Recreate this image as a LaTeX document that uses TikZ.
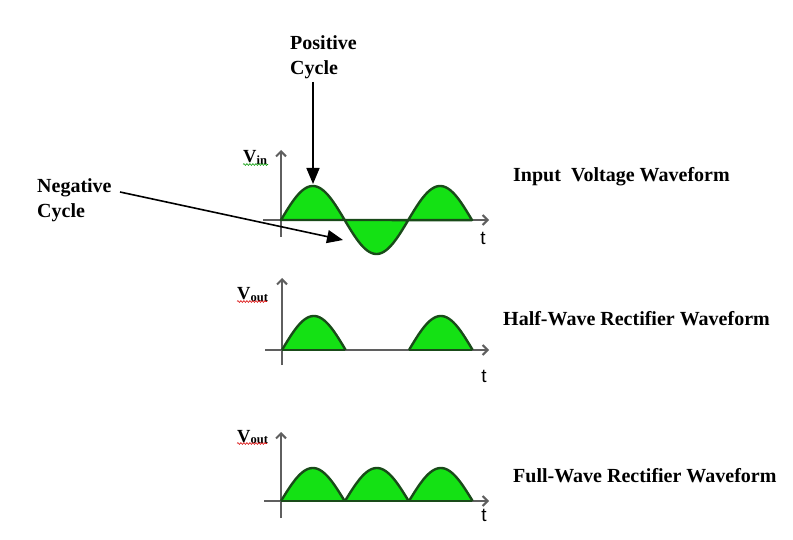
\documentclass[tikz,border=0pt]{standalone}
\usepackage{fontspec}
\setmainfont{Liberation Serif}
\newfontfamily\tsans{Liberation Sans}
\usetikzlibrary{arrows.meta,decorations.pathmorphing}
\definecolor{wavefill}{RGB}{20,225,20}
\definecolor{waveline}{RGB}{25,75,25}
\definecolor{axisgray}{RGB}{95,95,95}
\tikzset{
  axisline/.style={draw=axisgray,line width=2pt,-{Straight Barb[length=5pt,width=10pt]}},
  wave/.style={fill=wavefill,draw=waveline,line width=2.4pt,line join=round},
  lbl/.style={font=\fontsize{20}{25}\selectfont\bfseries,inner sep=0pt,align=left},
  tlbl/.style={font=\tsans\fontsize{19}{19}\selectfont,inner sep=0pt},
  vlbl/.style={inner sep=0pt,anchor=base west},
  pointer/.style={draw=black,line width=1.6pt,-{Triangle[length=16pt,width=13pt]}},
  squig/.style={decorate,decoration={snake,amplitude=0.9pt,segment length=3pt},line width=0.6pt}
}
\newcommand{\Vlab}[1]{{\fontsize{18.5}{18.5}\selectfont\bfseries V\raisebox{-1.5pt}{\fontsize{12.5}{12.5}\selectfont #1}}}
\begin{document}
\begin{tikzpicture}[x=1pt,y=-1pt]
\useasboundingbox (0,0) rectangle (793,540);
\fill[white] (0,0) rectangle (793,540);

% ---------- Graph 1: input ----------
\fill[wavefill] (281,220) -- plot[domain=0:191,samples=120] ({281+\x},{220-34*sin(\x*2.828)}) -- cycle;
\draw[axisline] (263,220) -- (489,220);
\draw[axisline] (281,237) -- (281,150);
\draw[wave,fill=none] (281,220) -- plot[domain=0:191,samples=120] ({281+\x},{220-34*sin(\x*2.828)}) -- cycle;
\node[vlbl] (vin) at (243,163) {\Vlab{in}};
\draw[squig,draw=green!60!black] (243,164.5) -- (268,164.5);
\node[tlbl] (t1) at (483,238) {t};

% ---------- Graph 2: half wave ----------
\fill[wavefill] (282,350) -- plot[domain=0:63.65,samples=50] ({282+\x},{350-34*sin(\x*2.828)}) -- cycle;
\fill[wavefill] (409,350) -- plot[domain=0:63.65,samples=50] ({409+\x},{350-34*sin(\x*2.828)}) -- cycle;
\draw[axisline] (265,350) -- (489,350);
\draw[axisline] (282,365) -- (282,278);
\draw[wave,fill=none] plot[domain=0:63.65,samples=50] ({282+\x},{350-34*sin(\x*2.828)});
\draw[wave,fill=none] plot[domain=0:63.65,samples=50] ({409+\x},{350-34*sin(\x*2.828)});
\draw[waveline,line width=1.6pt] (282,350) -- (345,350) (409,350) -- (472,350);
\node[vlbl] (vout1) at (237,300) {\Vlab{out}};
\draw[squig,draw=red!85!black] (237,301.5) -- (267,301.5);
\node[tlbl] (t2) at (484,376) {t};

% ---------- Graph 3: full wave ----------
\foreach \s in {281,345,409}{
  \fill[wavefill] (\s,501) -- plot[domain=0:63.65,samples=50] ({\s+\x},{501-33*sin(\x*2.828)}) -- cycle;
}
\draw[axisline] (264,501) -- (489,501);
\draw[axisline] (281,518) -- (281,432);
\foreach \s in {281,345,409}{
  \draw[wave,fill=none] plot[domain=0:63.65,samples=50] ({\s+\x},{501-33*sin(\x*2.828)});
}
\draw[waveline,line width=1.6pt] (281,501) -- (472,501);
\node[vlbl] (vout2) at (237,442) {\Vlab{out}};
\draw[squig,draw=red!85!black] (237,443.5) -- (267,443.5);
\node[tlbl] (t3) at (484,515) {t};

% ---------- annotations ----------
\node[lbl,anchor=base west] (pos) at (290,50) {Positive};
\node[lbl,anchor=base west] (posc) at (290,75) {Cycle};
\node[lbl,anchor=base west] (neg) at (37,193) {Negative};
\node[lbl,anchor=base west] (negc) at (37,218) {Cycle};
\coordinate (posfrom) at (313,82);
\coordinate (posto) at (313,184);
\coordinate (negfrom) at (120,192);
\coordinate (negto) at (343,240);
\draw[pointer] (posfrom) -- (posto);
\draw[pointer] (negfrom) -- (negto);

\node[lbl,anchor=base west] (inlab) at (513,182) {Input\ \ Voltage Waveform};
\node[lbl,anchor=base west] (hwlab) at (503,326) {Half-Wave Rectifier Waveform};
\node[lbl,anchor=base west] (fwlab) at (513,482) {Full-Wave\ Rectifier Waveform};
\end{tikzpicture}
\end{document}
